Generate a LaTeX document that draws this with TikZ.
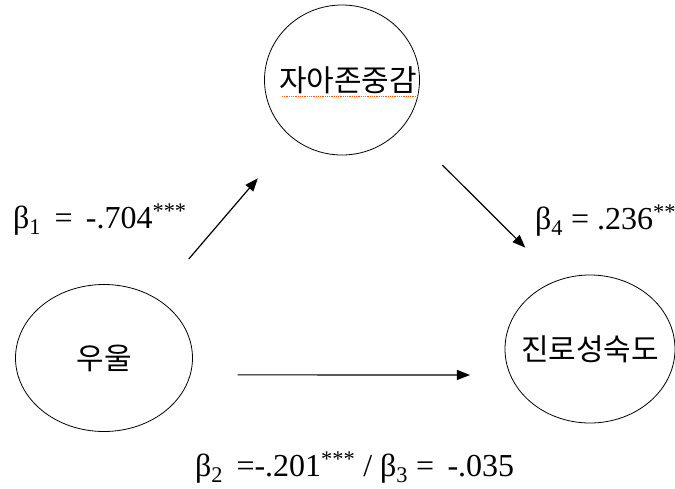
\documentclass[tikz,border=0pt]{standalone}
\usepackage{fontspec}
\setmainfont{Liberation Serif}
\newfontfamily\kor{Noto Sans CJK KR}
\usetikzlibrary{arrows.meta,shapes.geometric,calc}

\begin{document}
\begin{tikzpicture}[
  x=1pt, y=-1pt,
  >={Triangle[length=13pt,width=10pt]},
  var/.style={ellipse, draw, line width=0.8pt, inner sep=0pt,
    label={[font=\kor\fontsize{30}{36}\selectfont, inner sep=0pt]center:#1}},
  arr/.style={->, line width=1.2pt},
  coef/.style={anchor=base west, inner sep=0pt,
    font=\fontsize{32}{36}\selectfont},
]
\useasboundingbox (0,0) rectangle (675,488);

% Variables
\node[var={\hspace{12pt}자아존중감}, minimum width=155pt, minimum height=150pt] (self) at (342,80) {};
\node[var={우울}, minimum width=177pt, minimum height=147pt] (dep) at (104,358) {};
\node[var={진로성숙도}, minimum width=170pt, minimum height=148pt] (career) at (590,349) {};

% spell-check underline
\draw[orange!70!red, densely dotted, line width=0.8pt]
  ($(self.center)+(-60,16)$) -- ($(self.center)+(76,16)$);

% Arrows
\draw[arr, shorten <=51pt, shorten >=53pt] (dep) -- (self);
\draw[arr, shorten <=55pt, shorten >=46pt] (self.-37) -- (career.115.3);
\draw[arr, shorten <=47pt, shorten >=40pt] (dep.-11.2) -- (career.198.1);

% Coefficients
\node[coef] (b1) at (13,228) {β\textsubscript{1}\, = \,-.704\textsuperscript{***}};
\node[coef] (b4) at (535,229) {β\textsubscript{4} = .236\textsuperscript{**}};
\node[coef] (b23) at (195,476) {β\textsubscript{2}\, =-.201\textsuperscript{***} / β\textsubscript{3} = \,-.035};

\end{tikzpicture}
\end{document}
